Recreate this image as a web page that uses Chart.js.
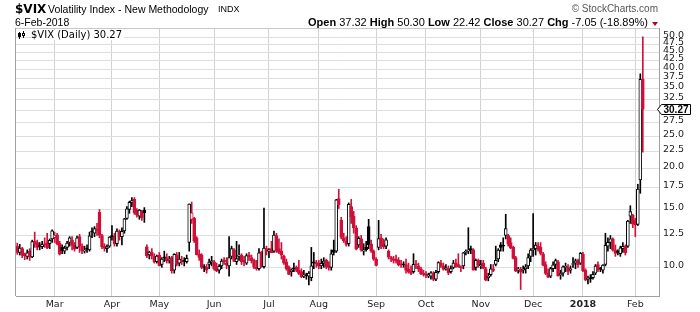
<!DOCTYPE html>
<html>
<head>
<meta charset="utf-8">
<script src="https://cdn.jsdelivr.net/npm/chart.js@4.4.1/dist/chart.umd.min.js"></script>
<style>
  body { margin: 0; background: #fff; }
  #wrap { position: relative; width: 700px; height: 312px; overflow: hidden; }
  #c { position: absolute; left: 0; top: 0; }
  .t { position: absolute; white-space: nowrap; line-height: 1; font-family: "Liberation Sans", Arial, sans-serif; color: #000; }
</style>
</head>
<body>
<div id="wrap">
  <canvas id="c" width="700" height="312"></canvas>
  <div class="t" style="left:15px; top:3px; font-family:'DejaVu Sans'; font-weight:bold; font-size:12px;">$VIX</div>
  <div class="t" style="left:48px; top:4px; font-size:10.5px;">Volatility Index - New Methodology</div>
  <div class="t" style="left:218px; top:5px; font-size:9px;">INDX</div>
  <div class="t" style="left:15px; top:17px; font-size:10.5px;">6-Feb-2018</div>
  <div class="t" style="right:42px; top:4px; font-size:10px; color:#555;">© StockCharts.com</div>
  <div class="t" style="right:52px; top:17px; font-size:11px;"><b>Open</b> 37.32 <b>High</b> 50.30 <b>Low</b> 22.42 <b>Close</b> 30.27 <b>Chg</b> -7.05 (-18.89%)</div>
  <div style="position:absolute; left:652px; top:22px; width:0; height:0; border-left:3px solid transparent; border-right:3px solid transparent; border-top:4px solid #b0002a;"></div>
  <div class="t" style="left:31px; top:30px; font-family:'DejaVu Sans'; font-size:10px; background:#fff; padding-right:2px;">$VIX (Daily) 30.27</div>
</div>
<script>
// trading days per month, Feb 7 2017 .. Feb 6 2018
var monthDays = [15, 23, 19, 22, 22, 20, 23, 20, 22, 21, 20, 21, 4];
var monthTicks = ['', 'Mar', 'Apr', 'May', 'Jun', 'Jul', 'Aug', 'Sep', 'Oct', 'Nov', 'Dec', '2018', 'Feb'];
var emptyBars = 6; // free space right of the last candle
var prevClose = 11.37;
var lastClose = 30.27;
var yTicks = [10, 12.5, 15, 17.5, 20, 22.5, 25, 27.5, 30, 32.5, 35, 37.5, 40, 42.5, 45, 47.5, 50];

var opens = [
  11.60, 11.10, 11.40, 10.95, 10.80, 11.20, 10.75, 12.00, 11.90, 11.60, 11.55, 11.80, 11.90, 11.80, 12.20,
  12.30, 12.55, 11.85, 11.50, 11.20, 11.50, 11.90, 12.10, 11.70, 11.50, 12.40, 11.60, 11.20, 11.40, 11.30, 12.90, 12.70, 13.00, 14.70, 12.50, 11.60, 11.40, 11.60,
  12.50, 12.40, 11.80, 12.90, 12.40, 12.90, 14.10, 15.00, 15.80, 16.10, 14.90, 14.30, 14.80, 14.90, 11.55, 10.90, 11.10, 10.80, 10.40,
  10.90, 10.20, 10.70, 10.70, 10.50, 10.70, 9.80, 10.90, 10.30, 10.50, 10.50, 10.40, 11.90, 14.00, 14.10, 12.30, 11.00, 10.90, 10.00, 10.00, 10.20, 10.40,
  10.40, 9.90, 9.80, 10.10, 10.50, 10.30, 10.10, 10.80, 11.30, 10.40, 10.80, 10.90, 10.50, 10.30, 10.90, 10.70, 10.50, 10.00, 9.90, 11.10, 10.05, 11.40,
  11.20, 11.40, 11.20, 12.50, 11.40, 11.20, 10.80, 10.40, 10.00, 9.70, 9.90, 10.00, 9.80, 9.70, 9.40, 9.50, 9.40, 9.30, 10.40, 10.30,
  10.30, 10.10, 10.30, 10.50, 10.10, 10.00, 11.30, 11.20, 16.20, 13.90, 12.30, 12.00, 11.80, 15.30, 14.30, 13.20, 11.70, 12.20, 11.20, 11.50, 13.30, 11.80, 11.20,
  10.60, 11.50, 12.30, 11.80, 11.60, 11.20, 10.70, 10.60, 10.60, 10.50, 10.20, 10.20, 10.20, 9.90, 9.70, 9.70, 10.20, 10.10, 9.90, 9.60,
  9.50, 9.40, 9.40, 9.60, 9.20, 9.70, 10.30, 10.10, 9.90, 9.90, 9.70, 10.00, 10.30, 10.20, 10.00, 10.10, 11.10, 11.20, 11.40, 11.30, 10.00, 10.50,
  10.10, 10.30, 9.90, 9.30, 9.50, 9.90, 10.20, 10.60, 11.70, 11.60, 12.50, 12.50, 11.90, 11.50, 10.70, 9.80, 9.90, 9.80, 9.90, 10.10, 10.80,
  11.30, 11.40, 11.60, 11.50, 11.00, 10.20, 9.60, 9.40, 9.90, 10.20, 10.40, 9.50, 9.60, 10.00, 10.00, 9.80, 10.20, 10.30, 10.50, 10.30,
  10.95, 9.80, 9.20, 9.30, 9.30, 9.60, 10.20, 9.90, 9.80, 10.20, 11.60, 11.90, 12.20, 11.30, 11.10, 11.00, 11.40, 11.60, 11.60, 14.30, 14.40,
  13.90, 13.50, 18.44, 37.32
];
var highs = [
  11.85, 11.75, 11.50, 11.05, 11.30, 11.40, 12.10, 12.80, 12.10, 11.90, 12.00, 12.30, 12.70, 12.20, 13.00,
  12.80, 12.70, 12.00, 11.70, 11.60, 12.00, 12.40, 12.40, 11.90, 12.45, 12.60, 11.80, 11.60, 11.70, 12.80, 13.20, 13.30, 13.60, 15.00, 12.60, 11.80, 11.70, 12.40,
  13.40, 12.70, 13.10, 13.00, 13.20, 14.10, 15.30, 15.90, 16.30, 16.30, 15.10, 15.00, 14.90, 15.20, 11.70, 11.20, 11.40, 11.00, 10.90,
  11.10, 10.70, 11.20, 11.00, 10.80, 10.80, 11.00, 11.10, 11.10, 10.80, 10.70, 10.90, 15.60, 15.80, 14.20, 12.40, 11.30, 11.00, 10.20, 10.20, 10.60, 10.80,
  10.50, 10.30, 10.20, 10.60, 10.70, 10.70, 12.40, 11.60, 11.40, 12.00, 11.70, 11.00, 10.80, 11.00, 11.10, 10.90, 10.60, 10.50, 11.40, 11.20, 15.16, 11.60,
  11.40, 12.00, 12.90, 12.70, 12.20, 11.90, 10.90, 10.60, 10.10, 9.90, 10.30, 10.10, 10.50, 9.90, 9.80, 9.60, 9.70, 11.50, 11.10, 10.50,
  10.50, 10.60, 10.70, 10.60, 10.40, 11.30, 12.10, 16.10, 17.28, 14.20, 12.70, 12.40, 15.70, 16.10, 14.80, 13.40, 12.40, 12.50, 11.80, 12.00, 14.00, 12.10, 11.30,
  10.70, 13.90, 12.60, 12.20, 12.30, 11.30, 10.80, 10.80, 10.90, 10.70, 10.50, 10.40, 10.60, 10.30, 10.10, 11.00, 10.50, 10.30, 10.00, 9.80,
  9.70, 9.60, 9.70, 9.70, 9.80, 10.40, 10.50, 10.30, 10.20, 10.10, 10.10, 10.50, 10.60, 11.00, 10.10, 11.10, 11.30, 13.20, 11.60, 11.40, 10.60, 10.60,
  10.50, 10.50, 10.00, 9.60, 10.20, 10.20, 11.60, 11.40, 11.90, 12.30, 14.51, 12.60, 12.30, 11.60, 10.80, 10.00, 10.00, 10.10, 10.20, 11.00, 11.40,
  14.58, 11.90, 11.90, 11.90, 11.10, 10.40, 9.90, 10.00, 10.40, 10.60, 10.50, 9.80, 10.10, 10.30, 10.20, 10.10, 10.70, 10.60, 10.60, 11.10,
  11.10, 9.90, 9.40, 9.50, 9.70, 10.20, 10.40, 10.00, 10.20, 12.70, 12.30, 12.50, 12.30, 11.70, 11.30, 11.60, 11.90, 11.70, 13.90, 15.40, 14.50,
  14.10, 17.90, 38.80, 50.30
];
var lows = [
  10.95, 10.90, 10.70, 10.55, 10.60, 10.50, 10.70, 11.50, 11.30, 11.30, 11.40, 11.50, 11.40, 11.40, 11.90,
  11.90, 11.70, 10.90, 11.00, 11.00, 11.30, 11.60, 11.30, 11.20, 11.40, 11.10, 11.00, 11.05, 11.10, 11.20, 12.30, 12.40, 12.50, 12.30, 11.40, 11.20, 11.10, 11.50,
  12.10, 11.60, 11.60, 12.10, 11.70, 12.70, 14.00, 14.60, 15.30, 14.50, 14.20, 14.00, 13.90, 13.70, 10.70, 10.60, 10.60, 10.30, 10.30,
  10.10, 10.00, 10.40, 10.30, 10.30, 9.60, 9.60, 10.10, 10.10, 10.20, 10.10, 10.30, 11.20, 13.60, 11.90, 10.90, 10.50, 9.90, 9.70, 9.60, 9.90, 10.10,
  9.80, 9.70, 9.60, 9.90, 10.20, 9.90, 9.40, 10.60, 10.40, 10.20, 10.50, 10.20, 10.10, 10.20, 10.50, 10.30, 9.90, 9.80, 9.80, 10.00, 9.95, 10.90,
  10.70, 11.10, 11.10, 11.10, 11.00, 10.60, 10.20, 9.80, 9.50, 9.40, 9.70, 9.70, 9.50, 9.30, 9.30, 9.20, 8.84, 9.10, 9.90, 10.00,
  9.90, 9.90, 10.00, 9.90, 9.80, 9.80, 10.90, 11.10, 15.10, 12.20, 11.90, 11.60, 11.60, 13.60, 12.70, 11.30, 11.50, 11.20, 10.90, 11.20, 11.40, 11.10, 10.50,
  10.10, 11.30, 11.40, 11.40, 11.40, 10.60, 10.40, 10.30, 10.30, 10.10, 10.00, 10.00, 9.60, 9.60, 9.50, 9.60, 9.90, 9.70, 9.50, 9.40,
  9.30, 9.30, 9.20, 9.10, 9.10, 9.60, 10.00, 9.80, 9.80, 9.50, 9.60, 9.90, 10.00, 10.00, 9.70, 9.90, 10.90, 11.00, 11.00, 9.80, 9.80, 10.00,
  9.90, 9.90, 9.10, 9.10, 9.40, 9.70, 10.10, 10.40, 11.20, 11.20, 12.20, 11.60, 11.40, 10.60, 9.70, 9.60, 8.56, 9.60, 9.60, 9.90, 10.40,
  10.80, 10.90, 11.20, 10.90, 10.10, 9.50, 9.30, 9.30, 9.70, 9.90, 9.40, 9.20, 9.40, 9.70, 9.50, 9.60, 10.00, 9.90, 10.00, 10.20,
  9.70, 9.10, 8.90, 9.00, 9.20, 9.50, 9.70, 9.70, 9.60, 10.10, 11.20, 11.40, 11.20, 10.80, 10.90, 10.80, 11.10, 10.90, 11.50, 13.60, 13.20,
  12.40, 13.40, 16.80, 22.42
];
var closes = [
  11.10, 11.45, 10.88, 10.85, 11.07, 10.74, 11.97, 11.76, 11.49, 11.57, 11.74, 11.71, 11.47, 12.09, 12.92,
  12.54, 11.81, 10.96, 11.24, 11.45, 11.86, 12.30, 11.66, 11.35, 12.30, 11.63, 11.21, 11.28, 11.34, 12.47, 12.81, 13.12, 12.96, 12.50, 11.53, 11.42, 11.54, 12.37,
  12.38, 11.79, 12.89, 12.39, 12.87, 14.05, 15.07, 15.77, 15.96, 14.66, 14.42, 14.93, 14.15, 14.63, 10.84, 11.12, 10.85, 10.36, 10.82,
  10.11, 10.59, 10.68, 10.46, 10.57, 9.77, 10.96, 10.21, 10.60, 10.40, 10.42, 10.65, 15.59, 14.66, 12.04, 10.93, 10.72, 9.99, 9.99, 9.81, 10.38, 10.41,
  9.89, 9.75, 10.07, 10.45, 10.39, 10.16, 10.70, 11.40, 10.42, 10.64, 10.90, 10.38, 10.37, 10.86, 10.75, 10.48, 10.02, 9.90, 11.06, 10.03, 11.44, 11.18,
  11.22, 11.07, 12.54, 11.19, 11.11, 10.89, 10.30, 9.90, 9.51, 9.82, 9.89, 9.79, 9.58, 9.36, 9.43, 9.43, 9.60, 10.11, 10.29, 10.26,
  10.09, 10.28, 10.44, 10.03, 10.00, 11.00, 11.11, 16.04, 15.51, 12.33, 12.04, 11.74, 15.55, 14.26, 13.19, 11.35, 12.25, 11.28, 11.28, 11.32, 11.70, 11.22, 10.59,
  10.13, 12.23, 11.63, 11.55, 12.12, 10.73, 10.58, 10.50, 10.44, 10.17, 10.15, 10.18, 9.78, 9.67, 9.59, 10.21, 10.17, 9.87, 9.55, 9.51,
  9.45, 9.51, 9.63, 9.19, 9.65, 10.33, 10.08, 9.85, 9.91, 9.61, 9.91, 10.31, 10.07, 10.05, 9.97, 11.07, 11.16, 11.23, 11.30, 9.80, 10.50, 10.18,
  10.20, 9.93, 9.14, 9.40, 9.89, 9.78, 10.50, 11.29, 11.50, 11.59, 13.13, 11.76, 11.43, 10.65, 9.73, 9.88, 9.67, 9.87, 10.03, 10.70, 11.28,
  11.43, 11.68, 11.33, 11.02, 10.16, 9.58, 9.34, 9.92, 10.18, 10.49, 9.42, 9.53, 10.03, 10.03, 9.72, 9.90, 10.25, 10.47, 10.18, 11.04,
  9.77, 9.15, 9.22, 9.22, 9.52, 10.08, 9.82, 9.88, 10.16, 11.66, 11.91, 12.22, 11.27, 11.03, 11.10, 11.47, 11.58, 11.08, 13.84, 14.79, 13.54,
  13.47, 17.31, 37.32, 30.27
];

// categories: one per trading day, plus empty room on the right
var labels = [];
var tickText = {};
var start = 0;
monthDays.forEach(function (n, m) {
    if (monthTicks[m]) tickText[start] = monthTicks[m];
    for (var d = 0; d < n; d++) labels.push(m + '-' + d);
    start += n;
});
for (var e = 0; e < emptyBars; e++) labels.push('');
var tickIdx = Object.keys(tickText).map(Number);

var red = '#d0103a';
var colors = closes.map(function (c, i) {
    var prev = i ? closes[i - 1] : prevClose;
    return c >= prev ? '#000000' : red;
});
var fills = closes.map(function (c, i) {
    return c > opens[i] ? '#ffffff' : colors[i];
});

var framePlugin = {
    id: 'frame',
    afterDatasetsDraw: function (chart) {
        var ctx = chart.ctx, a = chart.chartArea;
        ctx.save();
        ctx.fillStyle = '#c8c8c8';
        ctx.fillRect(a.left, a.top, a.right - a.left, 1);
        ctx.fillStyle = '#a0a0a0';
        ctx.fillRect(a.left - 1, a.top, 1, a.bottom - a.top);
        // little candle icon of the legend
        ctx.fillStyle = '#000';
        ctx.fillRect(19, 32, 1, 7);
        ctx.fillRect(18, 33, 3, 4);
        ctx.fillRect(23, 31, 1, 7);
        ctx.fillRect(22, 33, 3, 3);
        ctx.fillStyle = '#fff';
        ctx.fillRect(23, 34, 1, 1);
        // last value tag
        var y = Math.round(chart.scales.y.getPixelForValue(lastClose)) + 0.5;
        ctx.beginPath();
        ctx.moveTo(657.5, y);
        ctx.lineTo(661.5, y - 5);
        ctx.lineTo(690.5, y - 5);
        ctx.lineTo(690.5, y + 5);
        ctx.lineTo(661.5, y + 5);
        ctx.closePath();
        ctx.fillStyle = '#fff';
        ctx.fill();
        ctx.strokeStyle = '#000';
        ctx.lineWidth = 1;
        ctx.stroke();
        ctx.fillStyle = '#000';
        ctx.font = 'bold 10px "Liberation Sans", Arial, sans-serif';
        ctx.textAlign = 'center';
        ctx.textBaseline = 'middle';
        ctx.fillText(lastClose.toFixed(2), 676, y + 0.5);
        ctx.restore();
    }
};

new Chart(document.getElementById('c').getContext('2d'), {
    type: 'bar',
    data: {
        labels: labels,
        datasets: [{
            // bodies: open -> close
            data: opens.map(function (o, i) { return [o, closes[i]]; }),
            backgroundColor: fills,
            borderColor: colors,
            borderWidth: 1,
            borderSkipped: false,
            barThickness: 3,
            minBarLength: 1,
            grouped: false,
            order: 0
        }, {
            // wicks: low -> high
            data: lows.map(function (l, i) { return [l, highs[i]]; }),
            backgroundColor: colors,
            borderWidth: 0,
            barThickness: 1,
            grouped: false,
            order: 1
        }]
    },
    options: {
        responsive: false,
        animation: false,
        devicePixelRatio: 1,
        layout: { padding: { left: 16, top: 28, right: 0, bottom: 0 } },
        plugins: { legend: { display: false }, tooltip: { enabled: false } },
        scales: {
            x: {
                offset: true,
                afterBuildTicks: function (axis) {
                    axis.ticks = tickIdx.map(function (v) { return { value: v }; });
                },
                afterFit: function (axis) { axis.height = 16; },
                grid: { offset: false, color: '#d2d2d2', drawTicks: false },
                border: { color: '#a0a0a0' },
                ticks: {
                    autoSkip: false,
                    maxRotation: 0,
                    padding: 3,
                    color: '#222',
                    font: function (ctx) {
                        var bold = ctx.tick && tickText[ctx.tick.value] === '2018';
                        return { family: 'DejaVu Sans', size: 9.5, weight: bold ? 'bold' : 'normal' };
                    },
                    callback: function (v) { return tickText[v] || ''; }
                }
            },
            y: {
                type: 'logarithmic',
                position: 'right',
                min: 8.18,
                max: 53.5,
                afterBuildTicks: function (axis) {
                    axis.ticks = yTicks.map(function (v) { return { value: v }; });
                },
                afterFit: function (axis) { axis.width = 41; },
                grid: { color: '#dedede', drawTicks: false },
                border: { color: '#a0a0a0' },
                ticks: {
                    autoSkip: false,
                    padding: 4,
                    labelOffset: -2,
                    color: '#222',
                    font: { family: 'DejaVu Sans', size: 9.5 },
                    callback: function (v) { return v === 30 ? '' : Number(v).toFixed(1); }
                }
            }
        }
    },
    plugins: [framePlugin]
});
</script>
</body>
</html>
